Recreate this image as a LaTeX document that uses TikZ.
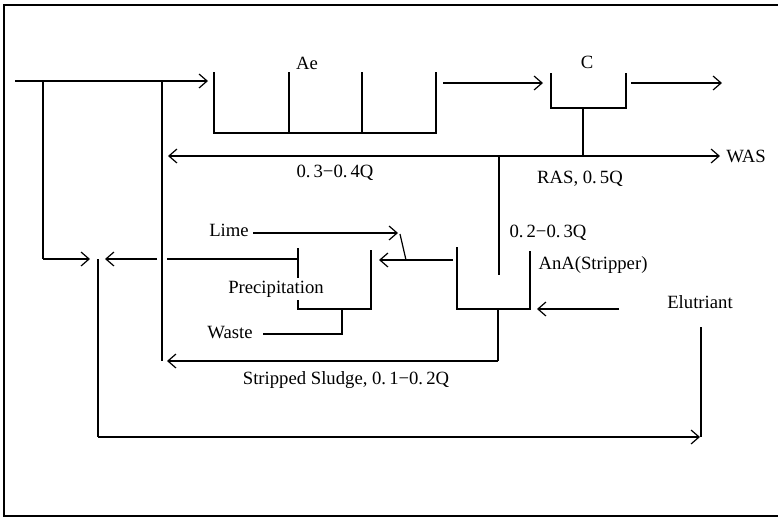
\documentclass[tikz,border=0pt]{standalone}
\usepackage{fontspec}
\setmainfont{Liberation Serif}
\usetikzlibrary{arrows.meta}

\tikzset{
  pipe/.style={line width=0.7pt},
  flow/.style={line width=0.7pt, -{Straight Barb[length=4.6pt,width=8pt,line width=0.7pt]}},
  tank/.style={line width=0.8pt},
  lbl/.style={font=\fontsize{10.8}{12}\selectfont, inner sep=0pt},
}

\begin{document}
\begin{tikzpicture}[x=0.578pt,y=-0.578pt]
\useasboundingbox (0,0) rectangle (778,518);

% Frame, open at the right
\draw[pipe] (778,5) -- (4,5) -- (4,516) -- (778,516);

% Key points of the flow sheet
\coordinate (feed) at (15,81);
\coordinate (by1) at (43,81);
\coordinate (by2) at (162,81);
\coordinate (mix) at (98,259);
\coordinate (ras) at (583,156);
\coordinate (split) at (499,156);
\coordinate (strip) at (498,309);
\coordinate (elu) at (701,327);

% Aeration tank Ae (three cells)
\draw[tank] (214,72) -- (214,133) -- (436,133) -- (436,72);
\draw[tank] (289,72) -- (289,133);
\draw[tank] (362,72) -- (362,133);
\node[lbl] (ae) at (307,63) {Ae};

% Clarifier C
\draw[tank] (551,73) -- (551,108) -- (626,108) -- (626,73);
\node[lbl] (clar) at (587,62) {C};

% Stripper AnA
\draw[tank] (457,247) -- (457,309) -- (530,309) -- (530,251);
\node[lbl] (ana) at (593,265) {AnA(Stripper)};

% Precipitation tank
\draw[tank] (298,248) -- (298,309) -- (371,309) -- (371,250);
\node[lbl, fill=white, inner sep=1.5pt] (prec) at (276,289) {Precipitation};

% Influent and by-pass lines
\draw[flow] (feed) -- (208,81);
\draw[pipe] (by1) -- (43,259);
\draw[flow] (43,259) -- (90,259);
\draw[pipe] (by2) -- (162,361);

% Ae -> C -> effluent
\draw[flow] (443,83) -- (543,83);
\draw[flow] (631,83) -- (722,83);

% Return sludge and waste sludge
\draw[pipe] (583,108) -- (ras);
\draw[flow] (ras) -- (168,156);
\draw[flow] (ras) -- (720,156);
\node[lbl, anchor=west] (was) at (726,156) {WAS};
\node[lbl] (q1) at (335,173) {0.\,3−0.\,4Q};
\node[lbl] (q2) at (580,179) {RAS, 0.\,5Q};

% Side stream to the stripper
\draw[pipe] (split) -- (499,275);
\node[lbl] (q3) at (548,233) {0.\,2−0.\,3Q};

% Elutriant
\draw[flow] (619,309) -- (537,309);
\node[lbl] (elut) at (700,302) {Elutriant};

% Stripped sludge
\draw[pipe] (strip) -- (498,361);
\draw[flow] (498,361) -- (167,361);
\node[lbl] (q4) at (346,380) {Stripped Sludge, 0.\,1−0.\,2Q};

% Stripper overflow, lime dosing
\draw[flow] (453,260) -- (379,260);
\node[lbl] (lime) at (229,230) {Lime};
\draw[flow] (253,233) -- (398,233);
\draw[pipe] (400,234) -- (406,260);

% Precipitation overflow (hop over the by-pass line)
\draw[pipe] (298,259) -- (167,259);
\draw[flow] (157,259) -- (105,259);

% Precipitation underflow to waste
\draw[pipe] (342,309) -- (342,334) -- (263,334);
\node[lbl] (waste) at (230,333) {Waste};

% Combined return loop
\draw[pipe] (mix) -- (98,437);
\draw[flow] (98,437) -- (700,437);
\draw[pipe] (elu) -- (701,437);

\end{tikzpicture}
\end{document}
